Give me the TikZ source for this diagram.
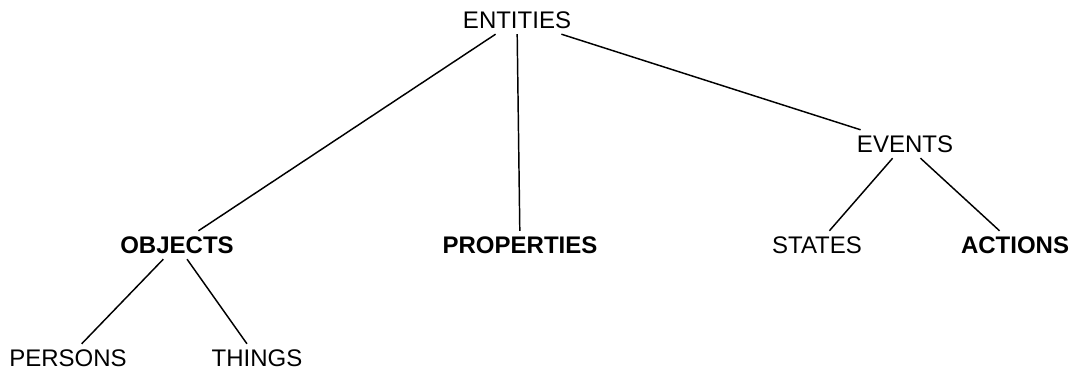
\documentclass[tikz,border=0pt]{standalone}
\usepackage{fontspec}
\setmainfont{Liberation Sans}
\usepackage{tikz}
\usetikzlibrary{positioning}
\tikzset{
  termino/.style={font=\fontsize{18}{20}\selectfont,text height=12.9pt,text depth=0pt,inner ysep=4pt,inner xsep=2pt},
  termnegrita/.style={termino,font=\fontsize{18}{20}\selectfont\bfseries},
  rama/.style={line width=1.1pt,black},
}

\begin{document}
\begin{tikzpicture}[x=0.75pt,y=-0.75pt]
  \useasboundingbox (0,0) rectangle (1071,370);
  \node[termino] (ent) at (517,20) {ENTITIES};
  \node[termino] (eve) at (905,144) {EVENTS};
  \node[termnegrita] (obj) at (177,245) {OBJECTS};
  \node[termnegrita] (prop) at (520,245) {PROPERTIES};
  \node[termino] (est) at (817,245) {STATES};
  \node[termnegrita] (acc) at (1015,245) {ACTIONS};
  \node[termino] (pers) at (68,358) {PERSONS};
  \node[termino] (cosas) at (257,358) {THINGS};
  \draw[rama] (ent) -- (obj);
  \draw[rama] (ent) -- (prop);
  \draw[rama] (ent) -- (eve);
  \draw[rama] (eve) -- (est);
  \draw[rama] (eve) -- (acc);
  \draw[rama] (obj) -- (pers);
  \draw[rama] (obj) -- (cosas);
\end{tikzpicture}
\end{document}
